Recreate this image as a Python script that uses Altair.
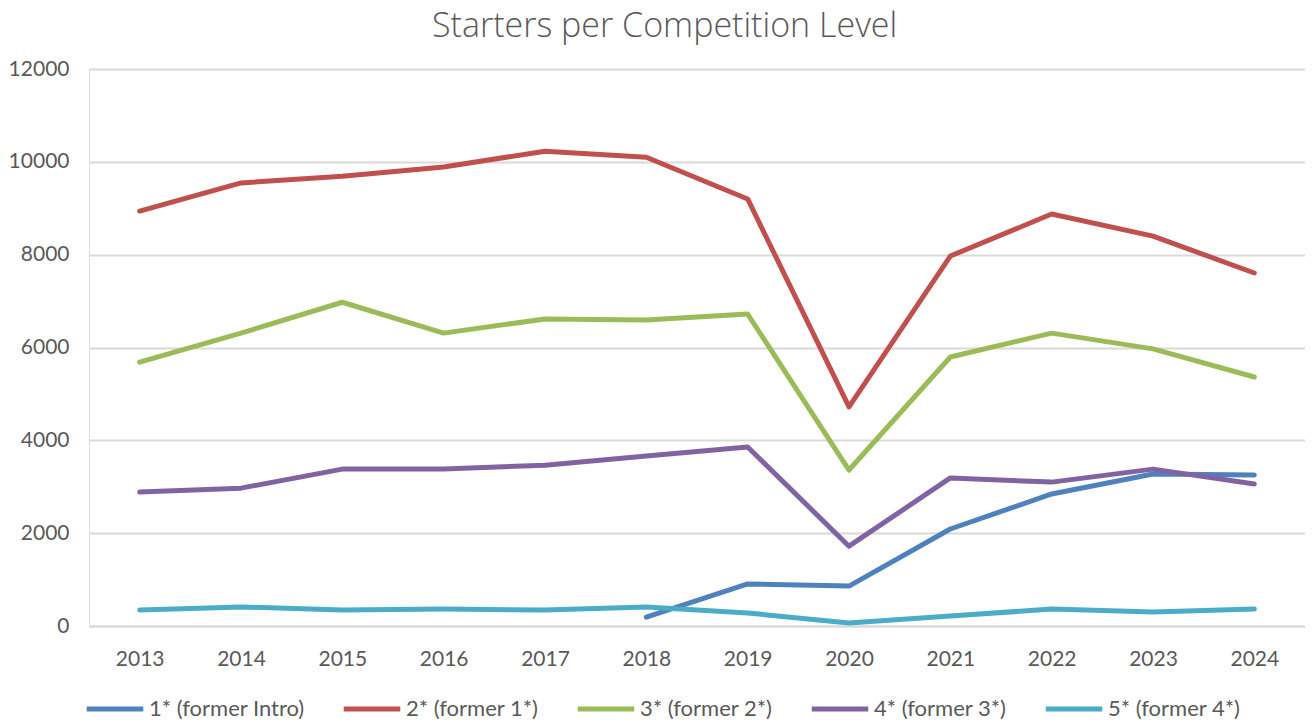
import altair as alt
import pandas as pd
import numpy as np

years = [2013, 2014, 2015, 2016, 2017, 2018, 2019, 2020, 2021, 2022, 2023, 2024]
series_names = ["1* (former Intro)", "2* (former 1*)", "3* (former 2*)", "4* (former 3*)", "5* (former 4*)"]
colors = ["#4F81BD", "#C0504D", "#9BBB59", "#8064A2", "#4BACC6"]

s1 = [None, None, None, None, None, 190, 905, 860, 2090, 2845, 3275, 3255]
s2 = [8940, 9545, 9690, 9890, 10230, 10100, 9200, 4720, 7970, 8875, 8400, 7605]
s3 = [5685, 6310, 6975, 6310, 6615, 6595, 6720, 3360, 5795, 6310, 5970, 5365]
s4 = [2885, 2970, 3380, 3380, 3465, 3660, 3855, 1720, 3190, 3100, 3380, 3060]
s5 = [345, 410, 345, 365, 345, 410, 280, 65, 215, 365, 300, 365]

rows = []
for name, vals in zip(series_names, [s1, s2, s3, s4, s5]):
    for y, v in zip(years, vals):
        rows.append({"year": str(y), "series": name, "value": (np.nan if v is None else v)})
df = pd.DataFrame(rows)

FONT = "Lato"
GRAY = "#595959"

chart = alt.Chart(df).mark_line(strokeWidth=5, strokeJoin="round", strokeCap="round").encode(
    x=alt.X("year:O", title=None,
            axis=alt.Axis(labelAngle=0, ticks=False, labelPadding=22, labelFontSize=21,
                          labelFont=FONT, labelColor=GRAY, domainColor="#D9D9D9", domainWidth=2)),
    y=alt.Y("value:Q", title=None,
            scale=alt.Scale(domain=[0, 12000], nice=False),
            axis=alt.Axis(values=[0, 2000, 4000, 6000, 8000, 10000, 12000], format="d",
                          ticks=False, domain=False, labelPadding=20, labelFontSize=21,
                          labelFont=FONT, labelColor=GRAY, gridColor="#D9D9D9", gridWidth=2)),
    color=alt.Color("series:N", title=None,
                    scale=alt.Scale(domain=series_names, range=colors),
                    legend=alt.Legend(orient="none", legendX=-5, legendY=609, direction="horizontal",
                                      columns=5, symbolType="stroke", symbolSize=3200,
                                      symbolStrokeWidth=5, labelFontSize=22, labelFont=FONT,
                                      labelColor=GRAY, labelOffset=3, columnPadding=28)),
    order=alt.Order("year:O"),
).properties(
    width=1216,
    height=557,
    title=alt.TitleParams("Starters per Competition Level", fontSize=34, font="Open Sans",
                          fontWeight=300, color=GRAY, anchor="middle", frame="bounds",
                          offset=14, dx=8),
    padding={"left": 0, "right": 0, "top": 2, "bottom": 0},
).configure_view(stroke=None).configure(background="white")

chart.save("out.html", embed_options={"renderer": "svg", "actions": False})
